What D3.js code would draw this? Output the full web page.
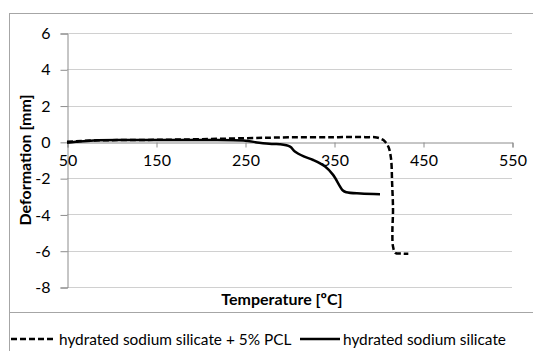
<!DOCTYPE html>
<html><head><meta charset="utf-8">
<script src="https://cdn.jsdelivr.net/npm/d3@7"></script>
<style>body{margin:0;background:#fff}svg{display:block}text{font-family:Lato,"Open Sans",sans-serif;fill:#000}</style>
</head><body><svg id="c" width="533" height="351"></svg>
<script>
const xTicks=[50,150,250,350,450,550];
const yTicks=[-8,-6,-4,-2,0,2,4,6];
const pclTemp=[50,60,80,120,180,250,300,350,385,398,405.5,411,414,415.3,416.3,415.6,416.3,419,426,433.5];
const pclDef=[0,0.03,0.08,0.1,0.13,0.2,0.25,0.26,0.26,0.24,0.1,-0.26,-0.9,-2.28,-3.75,-5,-5.77,-6.12,-6.16,-6.17];
const hssTemp=[50,60,80,120,180,248,266,280,289,300.6,306,316,326.6,340,349,360,364,380,401.7];
const hssDef=[-0.05,0.0,0.08,0.1,0.1,0.08,-0.05,-0.12,-0.13,-0.26,-0.53,-0.8,-1.0,-1.36,-1.82,-2.68,-2.78,-2.85,-2.89];
const seriesNames=["hydrated sodium silicate + 5% PCL","hydrated sodium silicate"];

const svg=d3.select("#c");
const x=d3.scaleLinear().domain([50,550]).range([67,512]);
const y=d3.scaleLinear().domain([-8,6]).range([287,33]);
const fmt=d=>String(d);
// outer border
svg.append("rect").attr("x",9.5).attr("y",13.5).attr("width",540).attr("height",360).attr("fill","none").attr("stroke","#a6a6a6");
svg.append("line").attr("x1",9).attr("x2",533).attr("y1",312.5).attr("y2",312.5).attr("stroke","#a6a6a6");
// gridlines
svg.append("g").selectAll("line").data(yTicks.filter(d=>d!==0)).join("line")
 .attr("x1",x(50)).attr("x2",x(550)).attr("y1",d=>Math.round(y(d))+0.5).attr("y2",d=>Math.round(y(d))+0.5)
 .attr("stroke","#d0d0d0");
// y axis
const ya=svg.append("g").attr("transform",`translate(${x(50)+0.5},0.5)`).call(d3.axisLeft(y).tickValues(yTicks).tickSize(7).tickPadding(10).tickFormat(fmt));
ya.select(".domain").attr("stroke","#8c8c8c");
ya.selectAll(".tick line").attr("stroke","#8c8c8c");
ya.selectAll("text").style("font-size","16px");
// x axis at y=0
const xa=svg.append("g").attr("transform",`translate(0.5,${Math.round(y(0))+0.5})`).call(d3.axisBottom(x).tickValues(xTicks).tickSize(5).tickPadding(7).tickFormat(fmt));
xa.select(".domain").attr("stroke","#8c8c8c");
xa.selectAll(".tick line").attr("stroke","#8c8c8c");
xa.selectAll("text").style("font-size","16px");
// titles
svg.append("text").attr("transform","translate(31,160) rotate(-90)").attr("text-anchor","middle").style("font-size","16px").style("font-weight","bold").text("Deformation [mm]");
svg.append("text").attr("x",282).attr("y",305).attr("text-anchor","middle").style("font-size","16px").style("font-weight","bold").text("Temperature [ºC]");
// lines
const line=d3.line().x(d=>x(d[0])).y(d=>y(d[1])).curve(d3.curveCatmullRom.alpha(0.5));
svg.append("path").datum(pclTemp.map((t,i)=>[t,pclDef[i]])).attr("d",line).attr("fill","none").attr("stroke","#000").attr("stroke-width",2.5).attr("stroke-dasharray","6,3");
svg.append("path").datum(hssTemp.map((t,i)=>[t,hssDef[i]])).attr("d",line).attr("fill","none").attr("stroke","#000").attr("stroke-width",2.5);
// legend
const ly=340;
svg.append("line").attr("x1",11).attr("x2",56).attr("y1",ly-1).attr("y2",ly-1).attr("stroke","#000").attr("stroke-width",2.5).attr("stroke-dasharray","6,3");
svg.append("text").attr("x",59).attr("y",ly+5).style("font-size","15.4px").text(seriesNames[0]);
svg.append("line").attr("x1",300).attr("x2",340).attr("y1",ly-1).attr("y2",ly-1).attr("stroke","#000").attr("stroke-width",2.5);
svg.append("text").attr("x",343).attr("y",ly+5).style("font-size","15.4px").text(seriesNames[1]);
</script></body></html>
